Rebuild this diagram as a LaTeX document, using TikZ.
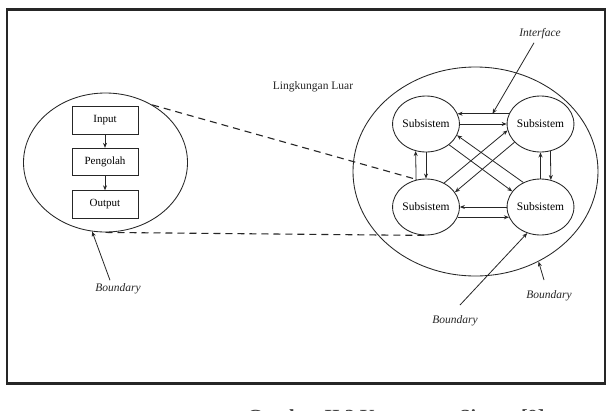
\documentclass[tikz,border=0pt]{standalone}
\usepackage{fontspec}
\setmainfont{Liberation Serif}
\usetikzlibrary{shapes.geometric,arrows.meta,calc}
\begin{document}
\begin{tikzpicture}[x=1pt,y=-1pt,
  ink/.style={draw=black!85, line width=0.85pt},
  sub/.style={ellipse, ink, minimum width=66pt, minimum height=56pt, inner sep=0pt, font=\fontsize{11.5}{13}\selectfont},
  procbox/.style={rectangle, ink, minimum width=66pt, minimum height=27.5pt, inner sep=0pt, font=\fontsize{11}{13}\selectfont},
  arr/.style={-{Stealth[length=5pt,width=4pt]}, black!85, line width=0.8pt},
  lbl/.style={font=\fontsize{11.5}{13}\selectfont\itshape, text=black!85},
  dashline/.style={black!85, line width=1.1pt, dash pattern=on 7pt off 5pt},
]
\useasboundingbox (0,0) rectangle (616,410);
\fill[white] (0,0) rectangle (616,410);
\draw[line width=2.2pt, draw=black!85] (7,9.5) rectangle (605,383.5);

% outer systems
\node[ellipse, ink, inner sep=0pt, minimum width=164pt, minimum height=139pt] (sysL) at (105.5,162.5) {};
\node[ellipse, ink, inner sep=0pt, minimum width=245pt, minimum height=209pt] (sysR) at (475.5,171.5) {};

% process boxes
\node[procbox] (inp) at (105,120.5) {Input};
\node[procbox] (proc) at (105,162) {Pengolah};
\node[procbox] (outp) at (105,204.5) {Output};
\draw[arr] (inp.south) -- (proc.north);
\draw[arr] (proc.south) -- (outp.north);

% subsystems
\node[sub] (tl) at (426,124) {Subsistem};
\node[sub] (tr) at (540.5,124) {Subsistem};
\node[sub] (bl) at (426,207) {Subsistem};
\node[sub] (br) at (540.5,207) {Subsistem};

% horizontal connectors
\draw[arr] (tr.162) -- (tl.18);
\draw[arr] (tl.east) -- (tr.west);
\draw[arr] (br.west) -- (bl.east);
\draw[arr] (bl.-18) -- (br.198);
% vertical connectors
\draw[arr] (bl.110.5) -- (tl.249.5);
\draw[arr] (tl.south) -- (bl.north);
\draw[arr] (br.north) -- (tr.south);
\draw[arr] (tr.290.5) -- (br.69.5);
% diagonal connectors
\draw[arr] (br.125) -- (tl.-20);
\draw[arr] (tl.-42) -- (br.151);
\draw[arr] (bl.53) -- (tr.191);
\draw[arr] (tr.215) -- (bl.27);

% dashed zoom lines
\draw[dashline] (sysL.51.4) -- (bl.108);
\draw[dashline] (sysL.south) -- (bl.south);

% labels
\node[font=\fontsize{11.5}{13}\selectfont, text=black!85] (env) at (313,87) {Lingkungan Luar};
\node[lbl] (iface) at (540,34) {Interface};
\node[lbl] (bL) at (118,289) {Boundary};
\node[lbl] (bB) at (455,321) {Boundary};
\node[lbl] (bR) at (549,296) {Boundary};

\coordinate (ifpt) at ($(tl.18)!0.68!(tr.162)$);
\coordinate (bRt) at (544,280);
\coordinate (bBt) at (460,305);
\draw[arr] ([xshift=-6pt]iface.south) -- (ifpt);
\draw[arr] ([xshift=-8pt]bL.north) -- (sysL.259);
\draw[arr] (bRt) -- (sysR.305);
\draw[arr] (bBt) -- (br.243);

% caption, cut off at the lower edge as in the reference
\begin{scope}
\clip (0,0) rectangle (616,410);
\node[anchor=base west, font=\fontsize{20}{24}\selectfont\bfseries, text=black!75, inner sep=0pt] (cap) at (247,423.5) {Gambar II.3 Komponen Sistem [9]};
\end{scope}
\end{tikzpicture}
\end{document}
